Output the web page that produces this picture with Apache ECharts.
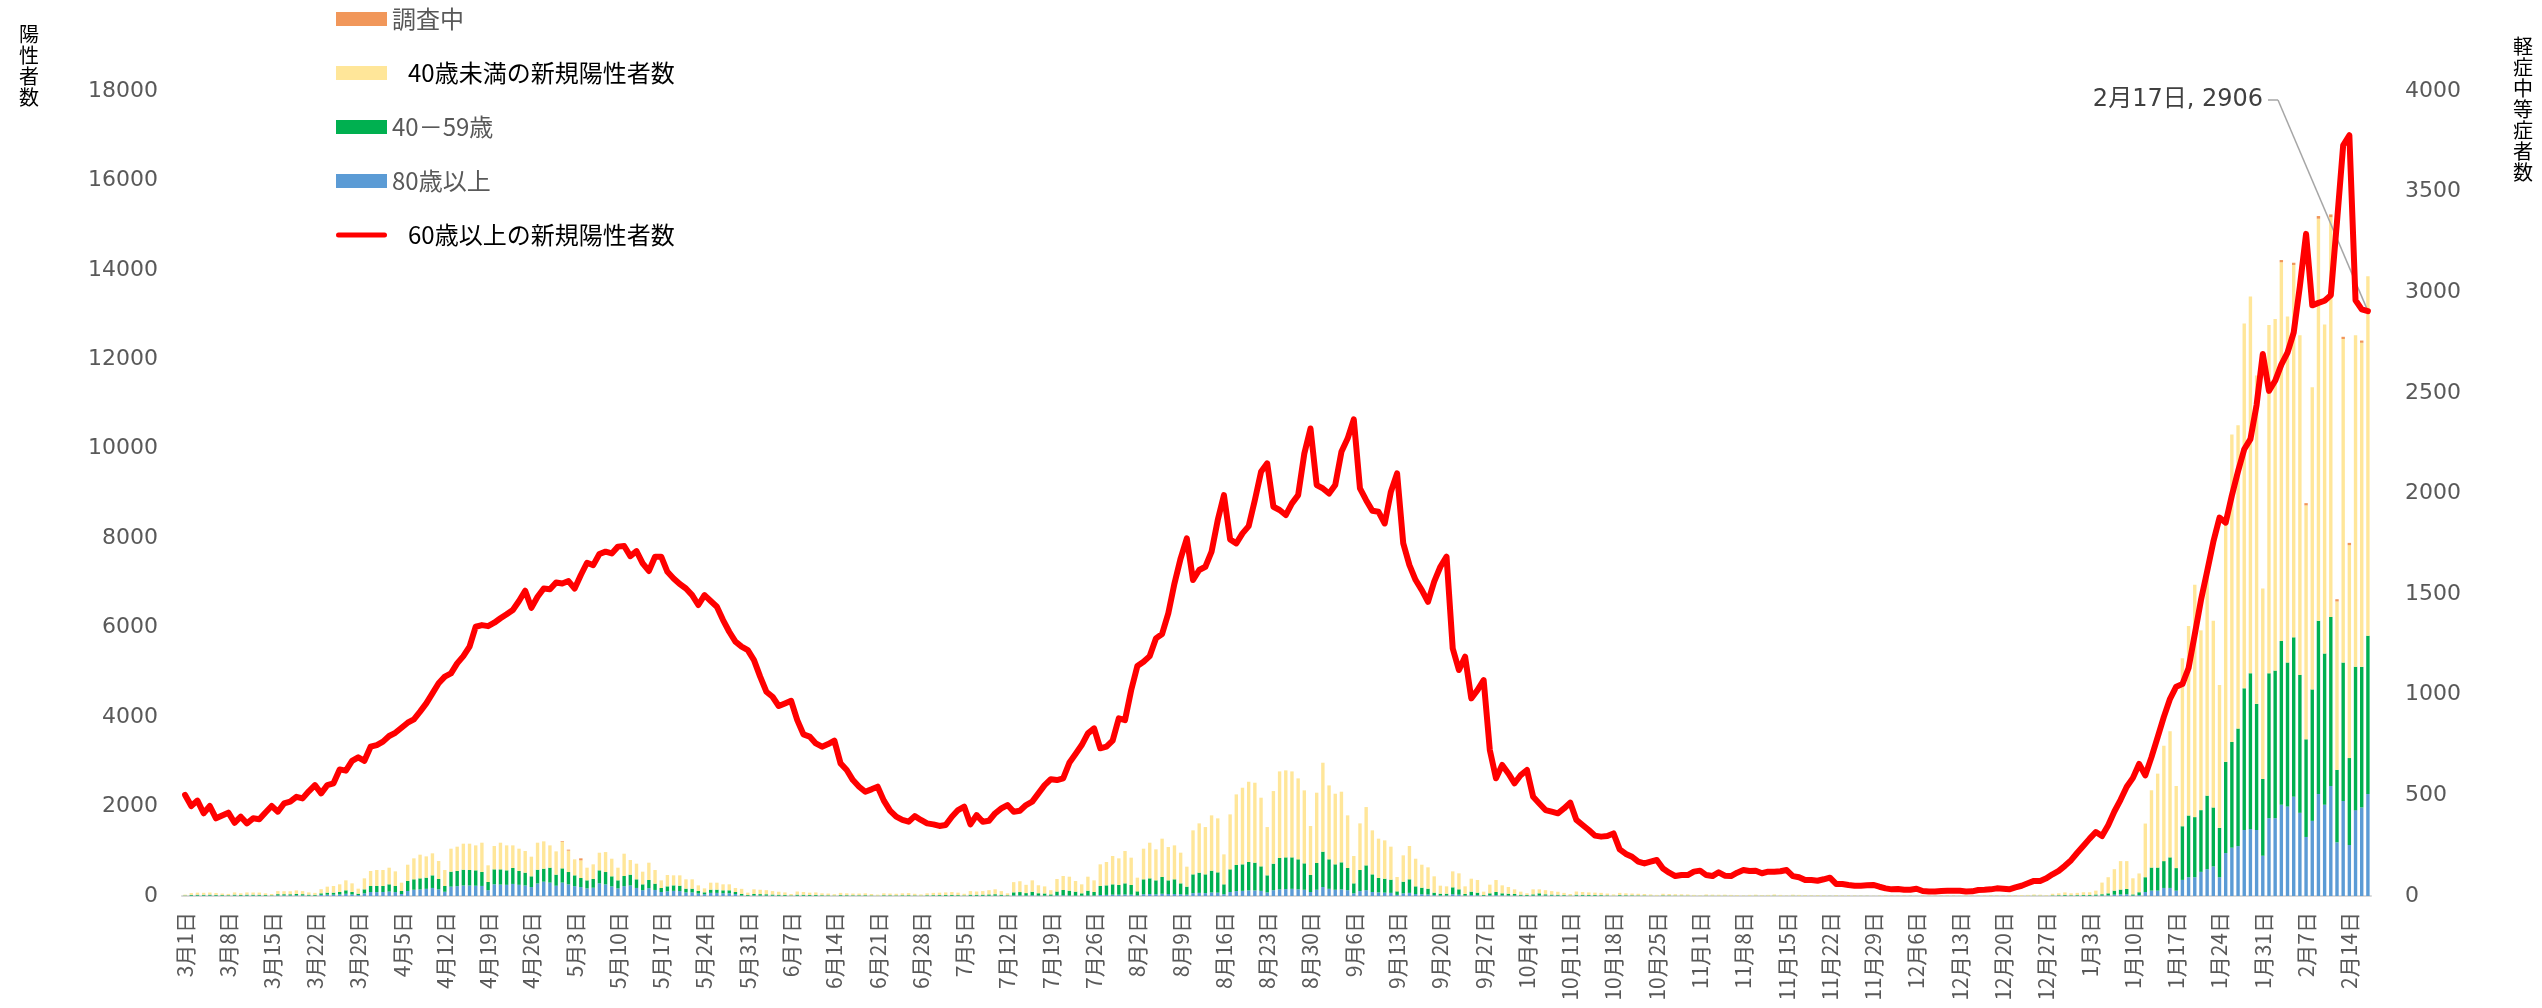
<!DOCTYPE html>
<html>
<head>
<meta charset="utf-8">
<script src="https://cdn.jsdelivr.net/npm/echarts@6/dist/echarts.min.js"></script>
<style>
  html, body { margin: 0; padding: 0; background: #fff; }
  #chart { width: 2542px; height: 1008px; }
</style>
</head>
<body>
<div id="chart"></div>
<script>
// one category per day, 2021-03-01 .. 2022-02-17
const firstDay = Date.UTC(2021, 2, 1);
const dayCount = 354;

// 80歳以上 (one row = one week, starting Monday)
const over80 = [
  4, 8, 9, 9, 10, 8, 7,
  6, 10, 7, 10, 9, 9, 7,
  5, 13, 13, 13, 15, 13, 10,
  8, 25, 30, 30, 35, 50, 35,
  22, 60, 89, 88, 90, 100, 88,
  45, 112, 140, 149, 160, 180, 150,
  95, 209, 220, 235, 235, 230, 225,
  130, 261, 255, 250, 270, 250, 235,
  200, 280, 320, 300, 230, 300, 260,
  220, 200, 170, 185, 283, 260, 215,
  170, 220, 235, 180, 130, 175, 135,
  90, 105, 115, 110, 80, 80, 55,
  40, 70, 70, 62, 62, 44, 13,
  6, 12, 11, 10, 9, 8, 6,
  4, 8, 7, 6, 6, 5, 4,
  3, 5, 5, 4, 4, 5, 3,
  2, 4, 4, 3, 4, 4, 3,
  2, 4, 4, 5, 5, 5, 4,
  3, 6, 6, 6, 7, 8, 6,
  4, 12, 13, 10, 14, 10, 9,
  6, 15, 15, 12, 10, 8, 12,
  10, 22, 25, 30, 30, 35, 30,
  15, 40, 45, 40, 50, 45, 45,
  40, 30, 65, 70, 65, 80, 75,
  40, 90, 110, 115, 125, 125, 115,
  80, 130, 150, 155, 160, 150, 140,
  90, 140, 200, 160, 140, 150, 130,
  60, 110, 130, 90, 80, 75, 70,
  25, 60, 70, 45, 40, 35, 18,
  12, 12, 40, 30, 10, 20, 16,
  6, 14, 18, 14, 12, 10, 7,
  5, 8, 12, 12, 10, 9, 7,
  4, 9, 8, 7, 7, 6, 5,
  3, 6, 5, 5, 4, 4, 3,
  2, 4, 4, 3, 3, 3, 2,
  1, 3, 3, 2, 3, 2, 2,
  1, 2, 3, 2, 2, 3, 2,
  1, 3, 2, 2, 1, 2, 1,
  1, 2, 1, 1, 1, 1, 1,
  0, 1, 1, 1, 1, 1, 1,
  0, 1, 1, 1, 1, 1, 1,
  0, 1, 1, 1, 1, 2, 1,
  1, 2, 2, 2, 2, 3, 3,
  2, 5, 6, 8, 5, 6, 7,
  7, 10, 10, 15, 30, 35, 40,
  10, 20, 90, 120, 120, 180, 180,
  120, 360, 420, 420, 540, 600, 660,
  420, 960, 1080, 1116, 1476, 1500, 1476,
  900, 1740, 1740, 2040, 2004, 2220, 1860,
  1320, 1680, 2280, 2040, 2460, 1200, 2124,
  1140, 1920, 1980, 2280
];

// 40－59歳
const age40to59 = [
  8, 16, 19, 18, 20, 17, 14,
  12, 20, 15, 20, 20, 19, 15,
  11, 28, 27, 26, 31, 28, 20,
  18, 35, 45, 45, 54, 77, 54,
  30, 89, 135, 136, 134, 161, 136,
  67, 223, 233, 246, 250, 282, 230,
  129, 335, 339, 353, 346, 344, 312,
  183, 335, 341, 324, 356, 309, 287,
  240, 308, 291, 333, 247, 318, 276,
  242, 202, 180, 195, 291, 276, 225,
  180, 227, 242, 193, 131, 183, 141,
  89, 111, 123, 121, 84, 84, 57,
  42, 72, 72, 65, 65, 45, 35,
  17, 33, 31, 29, 24, 21, 18,
  10, 22, 20, 17, 18, 13, 12,
  9, 15, 13, 12, 12, 13, 10,
  7, 13, 12, 11, 13, 14, 11,
  8, 13, 15, 16, 17, 19, 16,
  11, 24, 22, 24, 28, 32, 24,
  13, 70, 75, 55, 80, 52, 48,
  30, 85, 119, 107, 87, 52, 107,
  79, 202, 213, 231, 216, 248, 216,
  89, 333, 350, 310, 375, 305, 328,
  243, 179, 419, 452, 419, 486, 454,
  221, 506, 583, 593, 635, 620, 548,
  382, 593, 700, 709, 704, 670, 590,
  379, 598, 791, 660, 568, 603, 496,
  223, 471, 555, 394, 322, 312, 295,
  79, 260, 303, 171, 146, 129, 57,
  40, 40, 154, 119, 35, 77, 59,
  16, 46, 71, 46, 40, 35, 23,
  17, 29, 48, 26, 22, 19, 14,
  9, 20, 18, 16, 15, 14, 11,
  7, 14, 12, 11, 10, 9, 7,
  5, 10, 9, 8, 8, 7, 5,
  3, 7, 6, 6, 6, 5, 4,
  2, 5, 6, 4, 5, 7, 5,
  2, 6, 5, 4, 3, 4, 3,
  2, 4, 2, 3, 2, 2, 2,
  1, 2, 3, 2, 2, 2, 2,
  1, 2, 2, 2, 2, 3, 2,
  1, 3, 2, 3, 2, 4, 3,
  2, 4, 4, 4, 5, 7, 6,
  4, 10, 12, 16, 12, 14, 17,
  17, 24, 30, 45, 90, 109, 116,
  26, 64, 330, 516, 516, 600, 684,
  504, 1200, 1380, 1344, 1380, 1644, 1320,
  1104, 2040, 2364, 2628, 3168, 3480, 2820,
  1716, 3240, 3300, 3660, 3216, 3564, 3084,
  2184, 2940, 3876, 3384, 3780, 1620, 3096,
  1944, 3204, 3144, 3540
];

// 40歳未満の新規陽性者数
const under40 = [
  18, 41, 47, 45, 48, 43, 34,
  29, 50, 38, 50, 49, 49, 38,
  29, 69, 67, 67, 79, 69, 50,
  44, 92, 134, 149, 172, 223, 194,
  112, 246, 335, 357, 357, 372, 327,
  186, 365, 469, 529, 476, 492, 402,
  357, 514, 544, 582, 589, 558, 655,
  373, 522, 596, 558, 506, 499, 484,
  439, 604, 611, 499, 521, 596, 478,
  358, 395, 283, 328, 394, 447, 394,
  283, 499, 328, 350, 283, 387, 305,
  171, 253, 224, 231, 209, 209, 126,
  89, 156, 156, 134, 134, 90, 112,
  52, 105, 98, 91, 77, 66, 56,
  31, 70, 63, 52, 56, 42, 39,
  28, 50, 42, 39, 39, 42, 32,
  21, 43, 39, 36, 43, 47, 36,
  25, 43, 51, 54, 58, 66, 55,
  36, 80, 72, 80, 95, 110, 80,
  43, 228, 242, 185, 256, 178, 158,
  94, 280, 313, 313, 238, 201, 313,
  261, 484, 522, 633, 596, 723, 611,
  306, 685, 797, 693, 857, 745, 759,
  686, 447, 984, 1102, 1058, 1237, 1207,
  670, 1229, 1579, 1713, 1795, 1788, 1535,
  1080, 1624, 1936, 1945, 1922, 1810, 1632,
  1096, 1572, 1989, 1653, 1579, 1579, 1177,
  611, 1043, 1304, 984, 880, 857, 738,
  321, 589, 745, 618, 514, 477, 365,
  179, 164, 357, 358, 171, 290, 283,
  75, 193, 269, 178, 149, 104, 67,
  38, 112, 89, 92, 78, 67, 49,
  32, 71, 64, 57, 53, 50, 39,
  25, 50, 43, 39, 36, 32, 25,
  18, 36, 32, 29, 27, 25, 18,
  11, 25, 21, 20, 21, 18, 16,
  9, 18, 21, 14, 18, 25, 18,
  9, 21, 18, 14, 11, 14, 11,
  5, 14, 9, 11, 9, 7, 7,
  4, 9, 11, 7, 9, 7, 5,
  3, 7, 9, 7, 7, 11, 7,
  4, 11, 9, 11, 9, 12, 11,
  5, 14, 12, 16, 18, 25, 21,
  14, 35, 42, 56, 43, 50, 60,
  60, 86, 260, 360, 480, 636, 624,
  360, 420, 1200, 1728, 2100, 2580, 2820,
  1836, 3756, 4236, 5196, 4020, 5016, 4176,
  3192, 5460, 6876, 6780, 8160, 8424, 7344,
  4260, 7788, 7860, 8470, 7740, 8326, 7596,
  5230, 6756, 8988, 7356, 8940, 3766, 7234,
  4762, 7416, 7246, 8040
];

// 調査中 (only a few days have any)
const unknownDayIdx = [61, 62, 64, 339, 341, 343, 345, 347, 348, 349, 350, 352];
const unknownCount = [15, 22, 45, 50, 50, 50, 60, 60, 50, 50, 50, 50];

// 60歳以上の新規陽性者数 (right axis)
const over60Line = [
  502, 447, 474, 411, 447, 386, 400,
  414, 364, 394, 361, 386, 381, 415,
  447, 419, 460, 469, 493, 485, 520,
  551, 510, 551, 560, 629, 623, 671,
  689, 672, 742, 750, 767, 795, 811,
  836, 861, 878, 916, 957, 1007, 1057,
  1090, 1106, 1156, 1192, 1239, 1338, 1346,
  1341, 1358, 1380, 1400, 1421, 1466, 1517,
  1432, 1487, 1528, 1524, 1558, 1553, 1565,
  1528, 1595, 1656, 1644, 1699, 1711, 1702,
  1736, 1739, 1689, 1714, 1653, 1615, 1686,
  1686, 1611, 1578, 1550, 1528, 1495, 1446,
  1495, 1466, 1437, 1371, 1313, 1264, 1239,
  1222, 1172, 1090, 1015, 990, 944, 957,
  970, 874, 803, 792, 758, 742, 755,
  772, 659, 626, 576, 543, 518, 530,
  543, 474, 424, 394, 378, 369, 397,
  378, 361, 356, 348, 353, 394, 427,
  444, 356, 402, 369, 374, 411, 435,
  452, 419, 424, 452, 469, 510, 551,
  580, 576, 585, 662, 705, 750, 808,
  833, 734, 742, 772, 883, 874, 1023,
  1143, 1164, 1192, 1280, 1302, 1404, 1553,
  1678, 1777, 1570, 1620, 1636, 1711, 1868,
  1992, 1772, 1752, 1802, 1838, 1967, 2108,
  2150, 1934, 1918, 1893, 1951, 1992, 2199,
  2323, 2042, 2025, 2000, 2042, 2207, 2273,
  2368, 2025, 1967, 1914, 1909, 1851, 2009,
  2100, 1752, 1644, 1570, 1520, 1462, 1562,
  1636, 1686, 1230, 1123, 1189, 982, 1023,
  1073, 725, 585, 651, 609, 560, 601,
  626, 493, 460, 427, 419, 411, 435,
  464, 378, 353, 328, 300, 295, 298,
  311, 232, 209, 195, 171, 162, 171,
  179, 137, 116, 99, 104, 104, 121,
  126, 104, 99, 118, 101, 99, 116,
  129, 124, 126, 113, 121, 121, 123,
  129, 99, 93, 79, 79, 76, 83,
  91, 60, 60, 55, 51, 51, 53,
  55, 46, 38, 33, 35, 31, 31,
  36, 25, 22, 22, 25, 26, 26,
  26, 22, 23, 30, 31, 33, 38,
  36, 33, 43, 51, 63, 75, 75,
  88, 108, 125, 150, 178, 215, 250,
  285, 318, 298, 352, 420, 478, 543,
  587, 656, 600, 690, 790, 890, 980,
  1040, 1053, 1133, 1300, 1470, 1613, 1760,
  1880, 1855, 1990, 2110, 2220, 2270, 2440,
  2693, 2510, 2560, 2640, 2700, 2800, 3030,
  3290, 2935, 2947, 2958, 2985, 3350, 3730,
  3780, 2960, 2915, 2906
];

const leftTicks = { min: 0, max: 18000, step: 2000 };
const rightTicks = { min: 0, max: 4000, step: 500 };

// build day labels
const days = [];
for (let i = 0; i < dayCount; i++) {
  const d = new Date(firstDay + i * 86400000);
  days.push((d.getUTCMonth() + 1) + '月' + d.getUTCDate() + '日');
}

const unknownAge = new Array(dayCount).fill(0);
unknownDayIdx.forEach((k, j) => { unknownAge[k] = unknownCount[j]; });

const lastIdx = over60Line.length - 1;
const lineData = over60Line.map((v, i) => {
  if (i !== lastIdx) return v;
  return {
    value: v,
    label: {
      show: true,
      formatter: p => days[p.dataIndex] + ', ' + p.value,
      fontSize: 24,
      fontFamily: 'DejaVu Sans, Noto Sans CJK JP',
      color: '#404040'
    }
  };
});

const chart = echarts.init(document.getElementById('chart'), null, { width: 2542, height: 1008 });

const cjk = '"Noto Sans CJK JP", sans-serif';
// thin rounded bar inside a 51x14 box, used as the line's legend swatch
const lineIcon = 'path://M0,0M51,14M2.5,4.5L48.5,4.5A2.5,2.5,0,0,1,48.5,9.5L2.5,9.5A2.5,2.5,0,0,1,2.5,4.5Z';

const option = {
  backgroundColor: '#fff',
  animation: false,
  grid: { left: 182, right: 171, top: 91, bottom: 112 },
  legend: {
    orient: 'vertical',
    left: 331,
    top: 1,
    itemWidth: 51,
    itemHeight: 14,
    itemGap: 28,
    selectedMode: false,
    textStyle: { fontSize: 24, lineHeight: 26, color: '#595959', fontFamily: cjk },
    data: [
      { name: '調査中', icon: 'rect' },
      { name: '40歳未満の新規陽性者数', icon: 'rect', textStyle: { color: '#000', padding: [0, 0, 0, 16] } },
      { name: '40－59歳', icon: 'rect' },
      { name: '80歳以上', icon: 'rect' },
      { name: '60歳以上の新規陽性者数', icon: lineIcon, itemStyle: { color: '#ff0000' }, textStyle: { color: '#000', padding: [0, 0, 0, 16] } }
    ]
  },
  xAxis: {
    type: 'category',
    data: days,
    axisTick: { show: false },
    axisLine: { lineStyle: { color: '#d9d9d9', width: 2 } },
    axisLabel: {
      interval: 6,
      rotate: 90,
      color: '#595959',
      fontSize: 21,
      fontFamily: cjk,
      margin: 16
    }
  },
  yAxis: [
    {
      type: 'value',
      min: leftTicks.min, max: leftTicks.max, interval: leftTicks.step,
      splitLine: { show: false },
      axisLine: { show: false },
      axisTick: { show: false },
      axisLabel: { color: '#595959', fontSize: 22, fontFamily: 'DejaVu Sans', margin: 24, formatter: v => String(v) }
    },
    {
      type: 'value',
      position: 'right',
      min: rightTicks.min, max: rightTicks.max, interval: rightTicks.step,
      splitLine: { show: false },
      axisLine: { show: false },
      axisTick: { show: false },
      axisLabel: { color: '#595959', fontSize: 22, fontFamily: 'DejaVu Sans', margin: 34, formatter: v => String(v) }
    }
  ],
  graphic: [
    {
      type: 'text', left: 19, top: 24,
      style: { text: '陽\n性\n者\n数', font: '20px ' + cjk, lineHeight: 21, fill: '#000' }
    },
    {
      type: 'text', left: 2513, top: 36,
      style: { text: '軽\n症\n中\n等\n症\n者\n数', font: '20px ' + cjk, lineHeight: 21, fill: '#000' }
    }
  ],
  series: [
    { name: '80歳以上', type: 'bar', stack: 'age', barWidth: '55%', data: over80, itemStyle: { color: '#5b9bd5' } },
    { name: '40－59歳', type: 'bar', stack: 'age', data: age40to59, itemStyle: { color: '#00b050' } },
    { name: '40歳未満の新規陽性者数', type: 'bar', stack: 'age', data: under40, itemStyle: { color: '#ffe699' } },
    { name: '調査中', type: 'bar', stack: 'age', data: unknownAge, itemStyle: { color: '#f1975a' } },
    {
      name: '60歳以上の新規陽性者数',
      type: 'line',
      yAxisIndex: 1,
      data: lineData,
      symbol: 'circle',
      symbolSize: 0,
      showSymbol: true,
      showAllSymbol: true,
      z: 10,
      itemStyle: { color: '#ff0000' },
      lineStyle: { color: '#ff0000', width: 6, cap: 'round', join: 'round' },
      labelLayout: function (params) {
        if (params.dataIndex !== lastIdx) return {};
        return { x: 2263, y: 100, align: 'right', verticalAlign: 'middle' };
      },
      markLine: {
        silent: true,
        symbol: 'none',
        label: { show: false },
        lineStyle: { color: '#a6a6a6', width: 1.5, type: 'solid' },
        data: [
          [{ coord: [lastIdx, over60Line[lastIdx]] }, { x: 2278, y: 100 }],
          [{ x: 2278, y: 100 }, { x: 2268, y: 100 }]
        ]
      }
    }
  ]
};

chart.setOption(option);
</script>
</body>
</html>
